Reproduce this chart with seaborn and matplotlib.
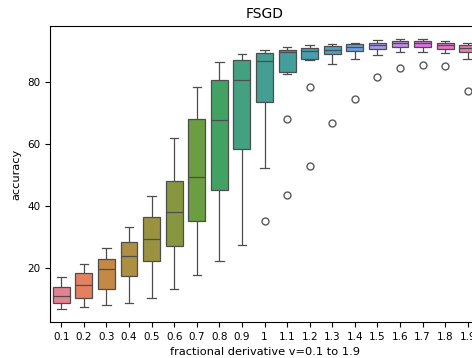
import pandas as pd
import matplotlib
matplotlib.use("Agg")
import matplotlib.pyplot as plt
import seaborn as sns

# fractional derivative order (x categories)
orders = ["0.1", "0.2", "0.3", "0.4", "0.5", "0.6", "0.7", "0.8", "0.9", "1",
          "1.1", "1.2", "1.3", "1.4", "1.5", "1.6", "1.7", "1.8", "1.9"]

# box summaries (accuracy %)
whisker_lo = [6.7, 7.3, 7.8, 8.6, 10.2, 13.1, 17.5, 22.0, 27.2, 52.3,
              82.6, 87.2, 85.8, 87.6, 88.9, 89.8, 89.9, 89.5, 87.6]
q1 = [8.6, 10.2, 13.0, 17.2, 22.0, 27.1, 35.0, 45.1, 58.3, 73.7,
      83.4, 87.7, 89.3, 90.0, 90.9, 91.3, 91.3, 90.7, 89.8]
median = [10.9, 14.2, 19.4, 23.6, 29.3, 38.1, 49.4, 67.7, 80.6, 86.9,
          89.9, 90.1, 90.4, 91.5, 92.2, 92.6, 92.8, 92.0, 91.2]
q3 = [13.7, 18.3, 22.9, 28.3, 36.5, 47.9, 68.0, 80.9, 87.1, 89.4,
      90.4, 91.1, 91.7, 92.5, 92.8, 93.3, 93.5, 92.8, 92.1]
whisker_hi = [16.9, 21.2, 26.2, 33.2, 43.3, 62.0, 78.4, 86.5, 89.3, 90.5,
              91.4, 92.2, 92.5, 92.8, 93.7, 93.9, 93.9, 93.5, 92.6]
outliers = {
    "1": [35.0],
    "1.1": [68.2, 43.6],
    "1.2": [78.6, 52.8],
    "1.3": [66.9],
    "1.4": [74.5],
    "1.5": [81.7],
    "1.6": [84.7],
    "1.7": [85.6],
    "1.8": [85.3],
    "1.9": [77.1],
}

# long table for seaborn: each summary value repeated so the quartiles land on them
rows = []
for i, o in enumerate(orders):
    for val in [whisker_lo[i], q1[i], median[i], q3[i], whisker_hi[i]]:
        rows += [(o, val)] * 20
    for val in outliers.get(o, []):
        rows.append((o, val))
df = pd.DataFrame(rows, columns=["order", "accuracy"])

fig = plt.figure(figsize=(4.72, 3.58), dpi=100)
# axes run past the right edge, like the cropped original
ax = fig.add_axes([50 / 472, 36 / 358, 429 / 472, 296 / 358])

sns.boxplot(data=df, x="order", y="accuracy", hue="order", palette="husl",
            legend=False, ax=ax, width=0.75, linecolor="0.3", linewidth=0.9,
            flierprops=dict(marker="o", markerfacecolor="none",
                            markeredgecolor="0.35", markersize=5))

ax.set_title("FSGD", fontsize=10)
ax.set_xlabel("fractional derivative v=0.1 to 1.9", fontsize=8.2)
ax.set_ylabel("accuracy", fontsize=8.2)
ax.tick_params(labelsize=7.5)
ax.set_yticks([20, 40, 60, 80])

fig.savefig("out.png", dpi=100)
